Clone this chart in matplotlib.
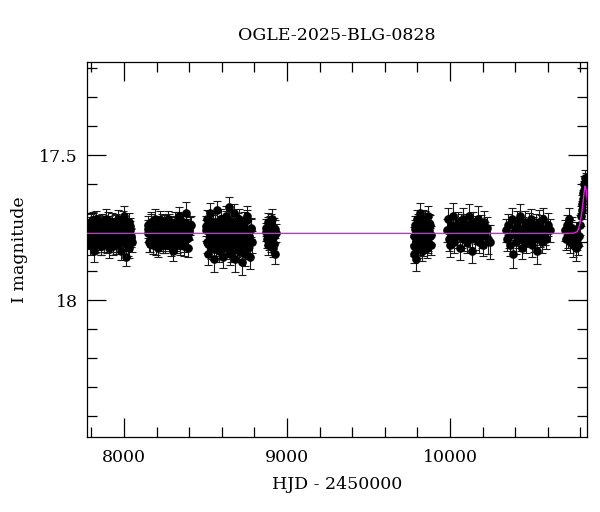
import matplotlib
matplotlib.use("Agg")
import matplotlib.pyplot as plt
from matplotlib.ticker import MultipleLocator, FixedLocator

plt.rcParams['font.family'] = ['DejaVu Serif']

# ---------------- data ----------------
t_s1 = [7781,7786,7790,7795,7799,7804,7808,7813,7818,7822,
        7827,7831,7836,7841,7845,7850,7855,7859,7864,7868,
        7873,7878,7882,7887,7892,7896,7901,7906,7910,7915,
        7919,7924,7929,7933,7938,7943,7947,7952,7957,7961,
        7966,7971,7975,7980,7985,7989,7994,7999,8003,8008,
        8013,8018,8023,8028,8033,8038,8043,8048,
        7784,7793,7802,7811,7820,7829,7839,7848,7857,7866,
        7876,7885,7894,7903,7913,7922,7931,7941,7950,7959,
        7969,7978,7987,7996,8006,8016,8026,8036,8046]
m_s1 = [17.78,17.75,17.81,17.77,17.73,17.79,17.76,17.83,17.74,17.78,
        17.80,17.72,17.77,17.75,17.79,17.76,17.74,17.81,17.78,17.73,
        17.77,17.80,17.75,17.79,17.72,17.78,17.76,17.82,17.74,17.77,
        17.79,17.75,17.73,17.80,17.77,17.76,17.74,17.81,17.78,17.72,
        17.79,17.75,17.77,17.83,17.76,17.74,17.80,17.78,17.71,17.77,
        17.85,17.75,17.79,17.73,17.82,17.76,17.78,17.80,
        17.745,17.795,17.765,17.725,17.805,17.755,17.785,17.735,17.815,17.765,
        17.745,17.775,17.805,17.725,17.795,17.755,17.815,17.765,17.735,17.785,
        17.805,17.745,17.775,17.725,17.795,17.765,17.815,17.745,17.785]
e_s1 = [30,28,35,32,27,30,33,38,29,31,
        34,28,30,32,36,29,31,33,30,28,
        31,35,29,30,33,32,28,34,30,31,
        29,33,30,35,28,31,32,30,36,29,
        31,34,30,33,29,31,32,30,35,28,
        33,30,31,29,34,32,30,33,
        31,29,33,30,32,28,34,30,31,29,
        33,30,32,29,31,34,30,28,32,31,
        30,33,29,31,32,30,34,29,31]

t_s2 = [8145,8150,8154,8159,8164,8168,8173,8178,8182,8187,
        8192,8196,8201,8206,8210,8215,8220,8224,8229,8234,
        8238,8243,8248,8252,8257,8262,8266,8271,8276,8280,
        8285,8290,8294,8299,8304,8308,8313,8318,8322,8327,
        8332,8336,8341,8346,8350,8355,8360,8364,8369,8374,
        8378,8383,8388,8393,8400,8408,
        8148,8157,8166,8175,8185,8194,8203,8213,8222,8231,
        8241,8250,8259,8268,8278,8287,8296,8306,8315,8325,
        8334,8343,8353,8362,8371,8381,8390,8397,8404]
m_s2 = [17.77,17.74,17.80,17.76,17.79,17.73,17.78,17.81,17.75,17.77,
        17.72,17.79,17.76,17.82,17.74,17.78,17.75,17.80,17.77,17.73,
        17.79,17.76,17.74,17.81,17.77,17.75,17.78,17.72,17.80,17.76,
        17.74,17.79,17.77,17.83,17.75,17.78,17.73,17.80,17.76,17.74,
        17.79,17.71,17.77,17.81,17.75,17.78,17.76,17.73,17.80,17.77,
        17.70,17.79,17.75,17.82,17.76,17.74,
        17.755,17.805,17.735,17.785,17.765,17.815,17.745,17.795,17.725,17.775,
        17.805,17.745,17.765,17.795,17.735,17.815,17.755,17.785,17.745,17.805,
        17.725,17.775,17.795,17.755,17.815,17.735,17.785,17.765,17.745]
e_s2 = [30,29,33,31,28,34,30,32,29,31,
        35,28,30,33,31,29,32,30,34,28,
        31,30,33,29,32,36,30,28,31,33,
        29,32,30,34,31,28,33,30,32,29,
        35,30,31,33,29,32,30,28,34,31,
        38,30,29,33,31,30,
        31,29,33,30,32,28,34,30,31,29,
        33,30,32,29,31,34,30,28,32,31,
        30,33,29,31,32,30,34,29,31]

t_s3 = [8502,8507,8511,8516,8521,8525,8530,8535,8539,8544,
        8549,8553,8558,8563,8567,8572,8577,8581,8586,8591,
        8595,8600,8605,8609,8614,8619,8623,8628,8633,8637,
        8642,8647,8651,8656,8661,8665,8670,8675,8679,8684,
        8689,8693,8698,8703,8707,8712,8717,8721,8726,8731,
        8735,8740,8745,8749,8754,8759,8764,8770,8777,8785,
        8505,8514,8523,8533,8542,8551,8560,8570,8579,8588,
        8598,8607,8616,8626,8635,8644,8654,8663,8672,8682,
        8691,8700,8710,8719,8728,8738,8747,8757,8767,8780]
m_s3 = [17.76,17.72,17.80,17.84,17.75,17.78,17.70,17.82,17.77,17.74,
        17.79,17.86,17.73,17.77,17.81,17.69,17.76,17.83,17.75,17.79,
        17.72,17.78,17.85,17.74,17.80,17.76,17.71,17.82,17.77,17.75,
        17.68,17.79,17.84,17.73,17.77,17.81,17.75,17.70,17.78,17.86,
        17.74,17.80,17.76,17.83,17.72,17.78,17.75,17.81,17.87,17.77,
        17.73,17.79,17.84,17.76,17.71,17.82,17.78,17.85,17.75,17.80,
        17.745,17.805,17.725,17.785,17.765,17.825,17.735,17.795,17.755,17.815,
        17.745,17.775,17.805,17.725,17.795,17.765,17.835,17.745,17.785,17.755,
        17.815,17.735,17.775,17.805,17.745,17.795,17.765,17.725,17.785,17.755]
e_s3 = [35,32,38,40,33,36,34,39,35,33,
        37,42,34,36,38,33,35,40,34,37,
        33,36,41,35,38,34,33,39,36,34,
        35,37,40,33,36,38,34,33,37,42,
        34,38,35,40,33,36,34,39,45,35,
        33,37,41,35,34,39,36,42,34,38,
        34,36,33,38,35,37,34,36,33,39,
        35,34,37,33,36,38,35,34,36,33,
        37,35,34,38,33,36,35,34,37,35]

t_s4 = [8872,8876,8881,8885,8890,8895,8899,8904,8908,8913,8918,8922,8927,8932,
        8874,8883,8892,8901,8911,8920,8929]
m_s4 = [17.75,17.79,17.73,17.81,17.77,17.74,17.80,17.76,17.72,17.82,17.78,17.75,17.84,17.77,
        17.765,17.745,17.795,17.735,17.785,17.805,17.755]
e_s4 = [30,32,29,34,31,30,33,31,35,33,30,32,36,31,
        31,30,33,32,30,34,31]

t_s5 = [9778,9782,9785,9789,9792,9796,9800,9803,9807,9810,
        9814,9818,9821,9825,9828,9832,9836,9839,9843,9846,
        9850,9854,9857,9861,9864,9868,9872,9875,9879,9883,
        9780,9787,9794,9801,9809,9816,9823,9830,9837,9845,
        9852,9859,9866,9873,9881]
m_s5 = [17.84,17.78,17.74,17.86,17.80,17.72,17.77,17.82,17.75,17.79,
        17.70,17.81,17.76,17.74,17.83,17.78,17.72,17.80,17.76,17.73,
        17.79,17.75,17.82,17.77,17.71,17.80,17.76,17.78,17.74,17.81,
        17.815,17.755,17.795,17.735,17.775,17.805,17.745,17.765,17.815,17.725,
        17.785,17.755,17.805,17.735,17.775]
e_s5 = [33,31,30,40,32,29,31,34,30,32,
        35,33,30,31,34,32,30,33,31,30,
        32,31,34,30,33,32,31,30,33,35,
        32,30,31,33,30,32,31,30,34,31,
        30,32,31,33,30]

t_s6 = [9982,9988,9995,10001,10008,10014,10021,10027,10034,10040,
        10047,10053,10060,10066,10073,10079,10086,10092,10099,10105,
        10112,10118,10125,10131,10138,10144,10151,10157,10164,10170,
        10177,10183,10190,10196,10203,10209,10216,10224,10236,10248]
m_s6 = [17.76,17.72,17.79,17.81,17.74,17.77,17.71,17.80,17.75,17.78,
        17.73,17.76,17.82,17.74,17.78,17.72,17.79,17.75,17.77,17.80,
        17.74,17.71,17.78,17.76,17.83,17.73,17.79,17.75,17.77,17.72,
        17.80,17.76,17.74,17.78,17.81,17.73,17.77,17.75,17.79,17.80]
e_s6 = [38,36,42,40,35,37,45,39,36,41,
        34,38,43,36,40,37,39,35,44,38,
        36,42,37,39,41,35,38,40,36,43,
        39,37,35,41,38,36,40,37,50,60]

t_s7 = [10345,10352,10358,10365,10371,10378,10384,10391,10397,10404,
        10410,10417,10423,10430,10436,10443,10449,10456,10462,10469,
        10475,10482,10488,10495,10501,10508,10514,10521,10527,10534,
        10540,10547,10553,10560,10566,10573,10580,10592,10604,10615]
m_s7 = [17.76,17.79,17.74,17.78,17.81,17.72,17.84,17.77,17.75,17.80,
        17.73,17.78,17.76,17.71,17.79,17.82,17.75,17.77,17.73,17.80,
        17.76,17.74,17.78,17.72,17.81,17.75,17.79,17.77,17.74,17.83,
        17.76,17.73,17.78,17.75,17.80,17.72,17.77,17.79,17.74,17.76]
e_s7 = [38,40,36,42,39,37,48,38,36,41,
        37,39,35,43,40,38,36,42,37,39,
        36,41,38,35,40,37,43,39,36,44,
        38,40,37,42,36,39,41,35,40,38]

t_s8 = [10706,10712,10718,10724,10730,10736,10742,10749,10756,10763,
        10770,10776,10782,10788,10794,10799,10804,10808,10812,10816,
        10819,10822,10825,10828,10831,10834,10837]
m_s8 = [17.76,17.79,17.74,17.78,17.72,17.80,17.76,17.75,17.81,17.78,
        17.77,17.82,17.79,17.81,17.78,17.74,17.71,17.69,17.67,17.65,
        17.63,17.60,17.62,17.58,17.60,17.59,17.61]
e_s8 = [36,38,35,40,37,39,36,38,42,37,
        40,45,38,36,35,34,33,32,31,30,
        30,29,30,29,28,29,30]

t_model = [7773, 10700, 10760, 10780, 10790, 10800, 10808, 10815,
           10820, 10825, 10829, 10833, 10838, 10843]
m_model = [17.770, 17.770, 17.769, 17.764, 17.752, 17.728, 17.700, 17.668,
           17.642, 17.619, 17.607, 17.612, 17.635, 17.660]

title = "OGLE-2025-BLG-0828"
xlabel = "HJD - 2450000"
ylabel = "I magnitude"
x_major = [8000, 9000, 10000]
y_major = [17.5, 18.0]
y_major_labels = ["17.5", "18"]

# ---------------- figure ----------------
fig = plt.figure(figsize=(6.0, 5.12), dpi=100)
ax = fig.add_axes([0.145, 0.147, 0.834, 0.732])

seasons = [(t_s1, m_s1, e_s1), (t_s2, m_s2, e_s2), (t_s3, m_s3, e_s3),
           (t_s4, m_s4, e_s4), (t_s5, m_s5, e_s5), (t_s6, m_s6, e_s6),
           (t_s7, m_s7, e_s7), (t_s8, m_s8, e_s8)]
for t, m, e in seasons:
    ax.errorbar(t, m, yerr=[v / 1000.0 for v in e], fmt='o', color='black',
                ecolor='#1a1a1a', elinewidth=0.8, capsize=2.6, capthick=0.8,
                markersize=5.2, zorder=2)

ax.plot(t_model, m_model, color='#e020e0', lw=1.0, zorder=3)

ax.set_xlim(7773, 10843)
ax.set_ylim(18.471, 17.179)

ax.xaxis.set_major_locator(FixedLocator(x_major))
ax.xaxis.set_minor_locator(MultipleLocator(200))
ax.yaxis.set_major_locator(FixedLocator(y_major))
ax.set_yticklabels(y_major_labels)
ax.yaxis.set_minor_locator(MultipleLocator(0.1))

ax.tick_params(which='both', direction='in', top=True, right=True,
               width=0.9, colors='black', labelsize=12.5)
ax.tick_params(which='major', length=13.5)
ax.tick_params(which='minor', length=7.0)
ax.tick_params(axis='x', which='major', pad=9)
ax.tick_params(axis='y', which='major', pad=6.5)
for s in ax.spines.values():
    s.set_linewidth(0.9)

ax.set_title(title, fontsize=12.5, pad=16)
ax.set_xlabel(xlabel, fontsize=12.5, labelpad=7)
ax.set_ylabel(ylabel, fontsize=12.5, labelpad=8)

fig.savefig("out.png", dpi=100)
